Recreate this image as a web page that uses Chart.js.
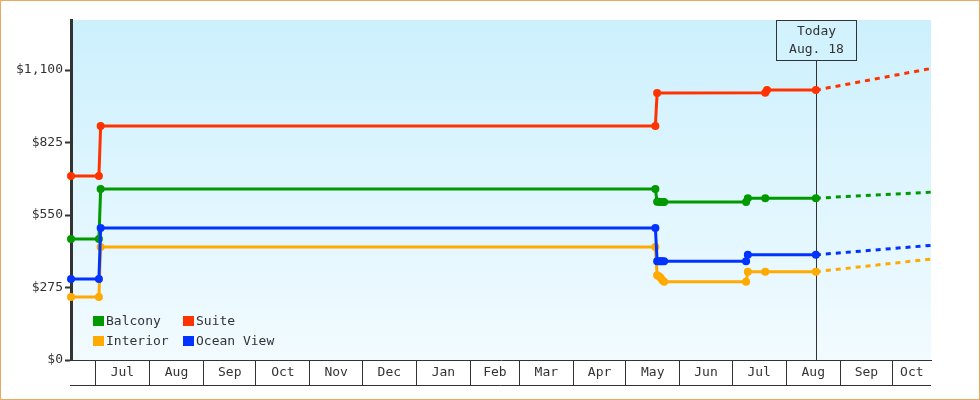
<!DOCTYPE html>
<html>
<head>
<meta charset="utf-8">
<script src="https://cdn.jsdelivr.net/npm/chart.js@4.4.1/dist/chart.umd.min.js"></script>
<style>
  html, body { margin: 0; padding: 0; background: #fff; }
  #wrap { position: relative; width: 980px; height: 400px; }
  #legend { position: absolute; left: 93px; top: 311px; display: grid; grid-template-columns: 90px auto;
            font: 13px 'DejaVu Sans Mono', monospace; color: #333; line-height: 20px; }
  #legend .item { display: flex; align-items: center; height: 20px; white-space: nowrap; }
  #legend .sw { display: inline-block; width: 11px; height: 10px; margin-right: 2px; }
</style>
</head>
<body>
<div id="wrap">
  <canvas id="c" width="980" height="400"></canvas>
  <div id="legend"></div>
</div>
<script>
// ---------- DATA ----------
const startDate = '2014-06-17';
const endDate = '2015-10-23';
const todayDate = '2015-08-18';
const todayLabel = ['Today', 'Aug. 18'];

const monthStarts = ['2014-07-01','2014-08-01','2014-09-01','2014-10-01','2014-11-01','2014-12-01',
                     '2015-01-01','2015-02-01','2015-03-01','2015-04-01','2015-05-01','2015-06-01',
                     '2015-07-01','2015-08-01','2015-09-01','2015-10-01'];
const monthLabels = ['Jul','Aug','Sep','Oct','Nov','Dec','Jan','Feb','Mar','Apr','May','Jun','Jul','Aug','Sep','Oct'];

const yTicks = [0, 275, 550, 825, 1100];
const yMax = 1290;

const seriesNames = ['Balcony', 'Suite', 'Interior', 'Ocean View'];
const seriesColors = ['#009900', '#ff3300', '#ffaa00', '#0033ff'];

const balconyDates = ['2014-06-17','2014-07-03','2014-07-04','2015-05-18','2015-05-19','2015-05-20','2015-05-21','2015-05-22','2015-05-23','2015-07-09','2015-07-10','2015-07-20','2015-08-18'];
const balconyValues = [459, 459, 649, 649, 600, 600, 599, 599, 599, 599, 614, 614, 614];

const suiteDates = ['2014-06-17','2014-07-03','2014-07-04','2015-05-18','2015-05-19','2015-07-20','2015-07-21','2015-08-18'];
const suiteValues = [698, 698, 888, 888, 1013, 1014, 1024, 1024];

const interiorDates = ['2014-06-17','2014-07-03','2014-07-04','2015-05-18','2015-05-19','2015-05-20','2015-05-21','2015-05-22','2015-05-23','2015-07-09','2015-07-10','2015-07-20','2015-08-18'];
const interiorValues = [239, 239, 429, 429, 322, 318, 312, 303, 297, 297, 335, 335, 335];

const oceanDates = ['2014-06-17','2014-07-03','2014-07-04','2015-05-18','2015-05-19','2015-05-20','2015-05-21','2015-05-22','2015-05-23','2015-07-09','2015-07-10','2015-08-18'];
const oceanValues = [307, 307, 501, 501, 375, 375, 375, 375, 375, 375, 399, 399];

// projections (today -> end)
const projDates = [todayDate, endDate];
const balconyProj = [614, 637];
const suiteProj = [1024, 1106];
const interiorProj = [335, 383];
const oceanProj = [399, 435];

// ---------- HELPERS ----------
const DAY0 = Date.parse(startDate + 'T00:00:00Z');
const toDay = s => (Date.parse(s + 'T00:00:00Z') - DAY0) / 86400000;
const pts = (dates, vals) => dates.map((d, i) => ({ x: toDay(d), y: vals[i] }));

const boundaryDays = monthStarts.map(toDay);
const xMax = toDay(endDate);
const labelMap = new Map();
boundaryDays.forEach((b, i) => {
  const next = i + 1 < boundaryDays.length ? boundaryDays[i + 1] : xMax;
  labelMap.set((b + next) / 2, monthLabels[i]);
});
const boundarySet = new Set(boundaryDays);

const FONT = "'DejaVu Sans Mono', monospace";
Chart.defaults.font.family = FONT;
Chart.defaults.font.size = 13;
Chart.defaults.color = '#333';

const mainSets = [
  [balconyDates, balconyValues],
  [suiteDates, suiteValues],
  [interiorDates, interiorValues],
  [oceanDates, oceanValues]
].map(([d, v], i) => ({
  label: seriesNames[i],
  data: pts(d, v),
  borderColor: seriesColors[i],
  backgroundColor: seriesColors[i],
  borderWidth: 3,
  pointRadius: 4,
  pointBorderWidth: 0,
  pointBackgroundColor: seriesColors[i],
  tension: 0,
  clip: false,
  order: [3, 2, 4, 1][i],
  inLegend: true
}));

const projSets = [balconyProj, suiteProj, interiorProj, oceanProj].map((v, i) => ({
  label: seriesNames[i] + ' projection',
  data: pts(projDates, v),
  borderColor: seriesColors[i],
  borderWidth: 3,
  borderDash: [5, 5],
  pointRadius: 0,
  tension: 0,
  clip: false,
  order: 5,
  inLegend: false
}));

const framePlugin = {
  id: 'frame',
  beforeDraw(chart) {
    const { ctx, chartArea: a } = chart;
    ctx.save();
    ctx.fillStyle = '#fff';
    ctx.fillRect(0, 0, chart.width, chart.height);
    const g = ctx.createLinearGradient(0, a.top, 0, a.bottom);
    g.addColorStop(0, '#ccf0fd');
    g.addColorStop(1, '#f2fbff');
    ctx.fillStyle = g;
    ctx.fillRect(a.left, a.top, a.right - a.left, a.bottom - a.top);
    ctx.restore();
  },
  afterDraw(chart) {
    const { ctx, chartArea: a } = chart;
    const xs = chart.scales.x;
    ctx.save();
    // bottom line of month band
    ctx.strokeStyle = '#333';
    ctx.lineWidth = 1;
    ctx.beginPath();
    const yb = Math.round(xs.top + 25) + 0.5;
    ctx.moveTo(a.left - 1, yb);
    ctx.lineTo(a.right, yb);
    ctx.stroke();
    // outer border
    ctx.strokeStyle = '#eaa962';
    ctx.strokeRect(0.5, 0.5, chart.width - 1, chart.height - 1);
    ctx.restore();
  },
  beforeDatasetsDraw(chart) {
    const { ctx, chartArea: a } = chart;
    const x = Math.round(chart.scales.x.getPixelForValue(toDay(todayDate))) + 0.5;
    const top = a.top + 0.5, w = 80, h = 40;
    ctx.save();
    ctx.strokeStyle = '#333';
    ctx.lineWidth = 1;
    ctx.beginPath();
    ctx.moveTo(x, top + h);
    ctx.lineTo(x, a.bottom);
    ctx.stroke();
    ctx.fillStyle = '#d2f2fd';
    ctx.fillRect(x - w / 2, top, w, h);
    ctx.strokeRect(x - w / 2, top, w, h);
    ctx.fillStyle = '#333';
    ctx.font = '13px ' + FONT;
    ctx.textAlign = 'center';
    ctx.textBaseline = 'middle';
    ctx.fillText(todayLabel[0], x, top + 11);
    ctx.fillText(todayLabel[1], x, top + 29);
    ctx.restore();
  }
};

const chart = new Chart(document.getElementById('c'), {
  type: 'line',
  data: { datasets: [...mainSets, ...projSets] },
  options: {
    responsive: false,
    animation: false,
    events: [],
    layout: { padding: { left: 0, top: 20, right: 49, bottom: 0 } },
    plugins: { legend: { display: false }, tooltip: { enabled: false } },
    scales: {
      x: {
        type: 'linear',
        min: 0,
        max: xMax,
        afterBuildTicks(scale) {
          const vals = [...boundaryDays, ...labelMap.keys()].sort((a, b) => a - b);
          scale.ticks = vals.map(v => ({ value: v }));
        },
        afterFit(scale) { scale.height = 40; },
        ticks: {
          autoSkip: false,
          maxRotation: 0,
          minRotation: 0,
          padding: -20,
          color: '#333',
          font: { size: 13, family: FONT },
          callback: v => labelMap.has(v) ? labelMap.get(v) : ''
        },
        grid: {
          drawOnChartArea: false,
          drawTicks: true,
          tickLength: 25,
          tickWidth: 1,
          tickColor: ctx => (ctx.tick && boundarySet.has(ctx.tick.value)) ? '#333' : 'rgba(0,0,0,0)'
        },
        border: { display: true, color: '#333', width: 1 }
      },
      y: {
        type: 'linear',
        min: 0,
        max: yMax,
        afterBuildTicks(scale) { scale.ticks = yTicks.map(v => ({ value: v })); },
        afterFit(scale) { scale.width = 71; },
        ticks: {
          padding: 2,
          color: '#333',
          font: { size: 13, family: FONT },
          callback: v => '$' + Number(v).toLocaleString('en-US')
        },
        grid: {
          drawOnChartArea: false,
          drawTicks: true,
          tickLength: 6,
          tickWidth: 2,
          tickColor: '#333'
        },
        border: { display: true, color: '#333', width: 3 }
      }
    }
  },
  plugins: [framePlugin]
});

// HTML legend built from the chart's datasets
const legendEl = document.getElementById('legend');
chart.data.datasets.filter(d => d.inLegend).forEach(d => {
  const item = document.createElement('div');
  item.className = 'item';
  const sw = document.createElement('span');
  sw.className = 'sw';
  sw.style.background = d.borderColor;
  const t = document.createElement('span');
  t.textContent = d.label;
  item.appendChild(sw);
  item.appendChild(t);
  legendEl.appendChild(item);
});
</script>
</body>
</html>
